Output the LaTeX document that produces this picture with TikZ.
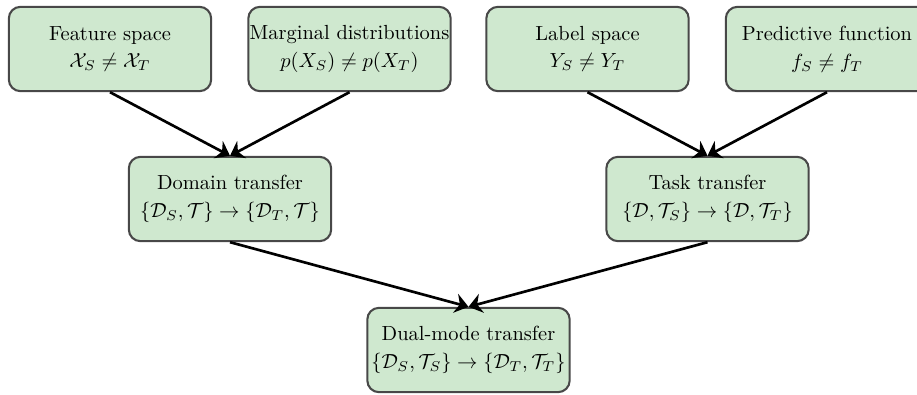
\documentclass[tikz,border=0pt]{standalone}
\usepackage{amssymb}
\usepackage{mathtools}
\usetikzlibrary{arrows.meta}
\definecolor{boxgreen}{RGB}{207,232,207}
\definecolor{boxedge}{RGB}{72,72,72}
\tikzset{
    stage/.style={draw=boxedge, line width=1pt, fill=boxgreen, rounded corners=0.2cm,
        minimum width=3.48cm, minimum height=1.45cm, align=center, inner sep=0pt,
        font=\fontsize{10}{13.5}\selectfont},
    flow/.style={-{Stealth[length=6.5pt,width=9.5pt]}, line width=1.3pt}
}

\begin{document}
\begin{tikzpicture}[x=0.0172cm, y=-0.0172cm]
            \useasboundingbox (0,0) rectangle (917,394);
            \node[stage] (F) at (110,49) {Feature space\\$\mathcal{X}_S \neq \mathcal{X}_T$};
            \node[stage] (M) at (349.5,49) {Marginal distributions\\$p(X_S) \neq p(X_T)$};
            \node[stage] (L) at (587.5,49) {Label space\\$Y_S \neq Y_T$};
            \node[stage] (P) at (827,49) {Predictive function\\$f_S \neq f_T$};
            \node[stage] (D) at (230,199) {Domain transfer\\$\{\mathcal{D}_S,\mathcal{T}\} \rightarrow \{\mathcal{D}_T,\mathcal{T}\}$};
            \node[stage] (T) at (707.5,199) {Task transfer\\$\{\mathcal{D},\mathcal{T}_S\} \rightarrow \{\mathcal{D},\mathcal{T}_T\}$};
            \node[stage] (DM) at (468.5,350) {Dual-mode transfer\\$\{\mathcal{D}_S,\mathcal{T}_S\} \rightarrow \{\mathcal{D}_T,\mathcal{T}_T\}$};
            \draw[flow] (F.south) -- (D.north);
            \draw[flow] (M.south) -- (D.north);
            \draw[flow] (L.south) -- (T.north);
            \draw[flow] (P.south) -- (T.north);
            \draw[flow] (D.south) -- (DM.north);
            \draw[flow] (T.south) -- (DM.north);
        \end{tikzpicture}
\end{document}
